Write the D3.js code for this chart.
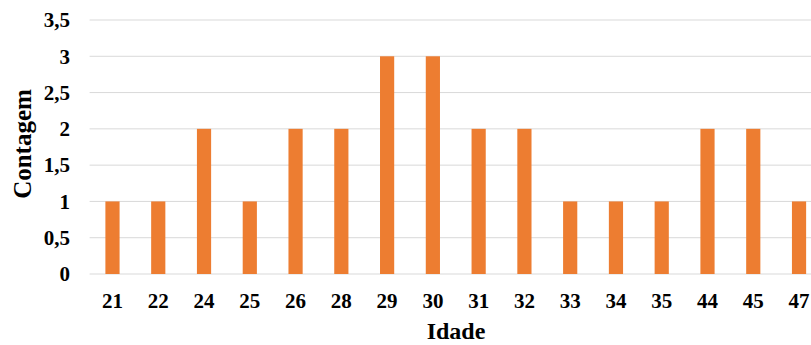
<!DOCTYPE html>
<html><head><meta charset="utf-8">
<script src="https://cdn.jsdelivr.net/npm/d3@7"></script>
<style>body{margin:0;background:#fff;overflow:hidden}svg{display:block}text{font-family:"Liberation Serif","Times New Roman",serif;font-weight:bold;fill:#000}</style>
</head><body>
<script>
const categories = ["21","22","24","25","26","28","29","30","31","32","33","34","35","44","45","47"];
const values = [1,1,2,1,2,2,3,3,2,2,1,1,1,2,2,1];
const yTicks = [0,0.5,1,1.5,2,2.5,3,3.5];
const xTitle = "Idade", yTitle = "Contagem";

const W = 811, H = 345;
const svg = d3.select("body").append("svg").attr("width", W).attr("height", H);
const x = d3.scaleBand().domain(categories).range([89.6, 89.6 + 45.77*16]).paddingInner(0.69).paddingOuter(0.345);
const y = d3.scaleLinear().domain([0,3.5]).range([274, 20]);
const fmt = d => String(d).replace(".", ",");

svg.append("g").selectAll("line").data(yTicks).join("line")
  .attr("x1", 89.6).attr("x2", W).attr("y1", d => y(d)).attr("y2", d => y(d))
  .attr("stroke", "#d9d9d9").attr("stroke-width", 1);

svg.append("g").selectAll("text").data(yTicks).join("text")
  .attr("x", 70).attr("y", d => y(d)).attr("dy", "0.35em").attr("text-anchor", "end")
  .attr("font-size", 21).text(fmt);

svg.append("g").selectAll("rect").data(values).join("rect")
  .attr("x", (d,i) => x(categories[i])).attr("width", x.bandwidth())
  .attr("y", d => y(d)).attr("height", d => y(0) - y(d)).attr("fill", "#ED7D31");

svg.append("g").selectAll("text").data(categories).join("text")
  .attr("x", d => x(d) + x.bandwidth()/2).attr("y", 300.5).attr("dy", "0.35em")
  .attr("text-anchor", "middle").attr("font-size", 21).text(d => d);

svg.append("text").attr("x", 456).attr("y", 339).attr("text-anchor", "middle")
  .attr("font-size", 24).text(xTitle);
svg.append("text").attr("transform", "translate(22,144) rotate(-90)").attr("dy", "0.35em")
  .attr("text-anchor", "middle").attr("font-size", 25).text(yTitle);
</script>
</body></html>
